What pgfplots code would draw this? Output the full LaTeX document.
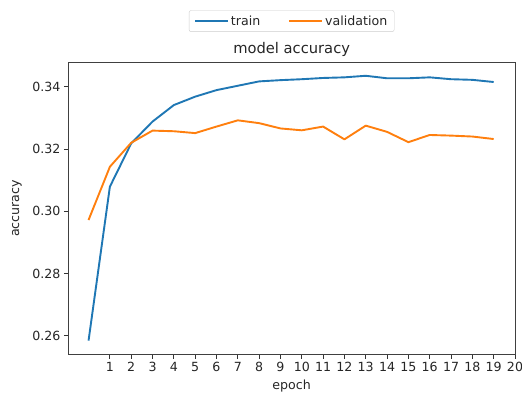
\documentclass[border=0pt]{standalone}
\usepackage{fontspec}
\setmainfont{DejaVu Sans}
\usepackage{pgfplots}
\pgfplotsset{compat=1.18}
\definecolor{mplblue}{HTML}{1F77B4}
\definecolor{mplorange}{HTML}{FF7F0E}
\begin{document}
\begin{tikzpicture}
\begin{axis}[
  scale only axis, width=446.7bp, height=291.6bp,
  xmin=-0.95, xmax=20, ymin=0.2541, ymax=0.3477,
  xtick={1,2,...,20},
  ytick={0.26,0.28,0.30,0.32,0.34},
  scaled y ticks=false,
  yticklabel style={/pgf/number format/fixed, /pgf/number format/fixed zerofill, /pgf/number format/precision=2},
  /pgf/number format/assume math mode=true,
  tick align=outside, tick pos=left, major tick length=4.4bp,
  every tick/.style={black!80, line width=1bp},
  axis line style={black!75, line width=1bp},
  tick label style={font=\fontsize{12.6bp}{15bp}\selectfont, text=black!85},
  xlabel={epoch}, ylabel={accuracy},
  every axis x label/.style={at={(axis description cs:0.5,-0.1087)}, anchor=center, font=\fontsize{12.6bp}{15bp}\selectfont, text=black!85},
  every axis y label/.style={at={(axis description cs:-0.1148,0.5)}, anchor=center, rotate=90, font=\fontsize{12.6bp}{15bp}\selectfont, text=black!85},
  title={model accuracy},
  every axis title/.style={at={(axis description cs:0.5,1.032)}, anchor=base, font=\fontsize{14.7bp}{17bp}\selectfont, text=black!85},
  legend columns=2,
  legend style={at={(axis description cs:0.5,1.106)}, anchor=south, draw=black!20, rounded corners=2bp,
    font=\fontsize{12.6bp}{15bp}\selectfont, text=black!85, inner xsep=5bp, inner ysep=3bp,
    /tikz/every even column/.append style={column sep=26bp}},
  legend image code/.code={\draw[#1] (0bp,0bp) -- (28bp,0bp); \path (0bp,0bp) -- (33bp,0bp);},
  every axis plot/.append style={line width=1.9bp, line join=round},
]
\addplot[mplblue] coordinates {
(0,0.2585) (1,0.3079) (2,0.3218) (3,0.3288) (4,0.3341) (5,0.3368) (6,0.3389) (7,0.3403)
(8,0.3417) (9,0.3421) (10,0.3424) (11,0.3428) (12,0.3430) (13,0.3435) (14,0.3427)
(15,0.3427) (16,0.3430) (17,0.3424) (18,0.3422) (19,0.3415)};
\addlegendentry{train}
\addplot[mplorange] coordinates {
(0,0.2972) (1,0.3143) (2,0.3220) (3,0.3259) (4,0.3257) (5,0.3251) (6,0.3272) (7,0.3292)
(8,0.3283) (9,0.3266) (10,0.3260) (11,0.3272) (12,0.3231) (13,0.3275) (14,0.3255)
(15,0.3222) (16,0.3245) (17,0.3243) (18,0.3240) (19,0.3232)};
\addlegendentry{validation}
\end{axis}
\pgfresetboundingbox
\path (current axis.south west) ++(-68.3bp,-41.7bp) coordinate (bbA);
\path (current axis.north east) ++(7bp,62.7bp) coordinate (bbB);
\path[use as bounding box] (bbA) rectangle (bbB);
\end{tikzpicture}
\end{document}
